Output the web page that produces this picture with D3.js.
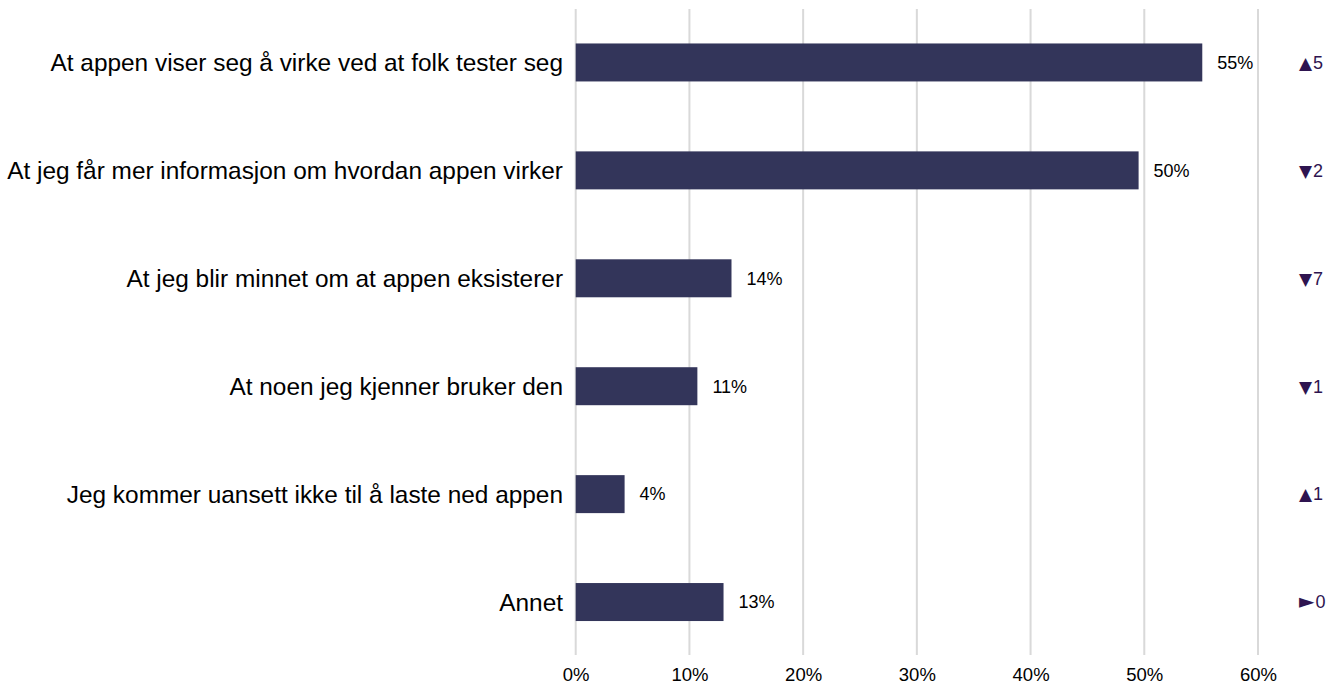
<!DOCTYPE html>
<html>
<head>
<meta charset="utf-8">
<script src="https://cdn.jsdelivr.net/npm/d3@7"></script>
<style>
  html, body { margin: 0; padding: 0; background: #fff; }
  svg { display: block; font-family: "Liberation Sans", Arial, sans-serif; }
</style>
</head>
<body>
<svg id="chart" width="1331" height="687"></svg>
<script>
// Answer categories (top to bottom)
const categories = [
  "At appen viser seg å virke ved at folk tester seg",
  "At jeg får mer informasjon om hvordan appen virker",
  "At jeg blir minnet om at appen eksisterer",
  "At noen jeg kjenner bruker den",
  "Jeg kommer uansett ikke til å laste ned appen",
  "Annet"
];
// Share of respondents
const values = [0.551, 0.495, 0.137, 0.107, 0.043, 0.130];
// Change since previous round (points)
const changeSymbols = ["▲", "▼", "▼", "▼", "▲", "►"];
const changeValues = [5, 2, 7, 1, 1, 0];
// Axis ticks
const tickValues = [0, 0.1, 0.2, 0.3, 0.4, 0.5, 0.6];

const svg = d3.select("#chart");

const x = d3.scaleLinear().domain([0, 0.6]).range([575.7, 1258]);
const y = d3.scaleBand()
  .domain(categories)
  .range([8.5, 656])
  .paddingInner(0.648)
  .paddingOuter(0.324);

const barColor = "#33355a";
const changeColor = "#2e1450";
const pct = d3.format(".0%");

// Vertical gridlines
svg.append("g")
  .selectAll("line")
  .data(tickValues)
  .join("line")
  .attr("x1", d => x(d)).attr("x2", d => x(d))
  .attr("y1", 9).attr("y2", 655)
  .attr("stroke", "#d9d9d9")
  .attr("stroke-width", 2);

// Axis tick labels
const axis = d3.axisBottom(x).tickValues(tickValues).tickFormat(pct).tickSize(0).tickPadding(0);
const axisG = svg.append("g").attr("transform", "translate(0,668)").call(axis);
axisG.select(".domain").remove();
axisG.selectAll("text")
  .attr("dy", null)
  .attr("y", 13)
  .attr("font-size", "18.5px")
  .attr("font-family", "Liberation Sans, Arial, sans-serif")
  .attr("fill", "#000");

// Bars
svg.append("g")
  .selectAll("rect")
  .data(categories)
  .join("rect")
  .attr("x", x(0))
  .attr("y", d => y(d))
  .attr("width", (d, i) => x(values[i]) - x(0))
  .attr("height", y.bandwidth())
  .attr("fill", barColor);

// Category labels
svg.append("g")
  .selectAll("text")
  .data(categories)
  .join("text")
  .attr("x", 563)
  .attr("y", d => y(d) + y.bandwidth() / 2)
  .attr("dy", "0.35em")
  .attr("text-anchor", "end")
  .attr("font-size", "24.4px")
  .attr("fill", "#000")
  .text(d => d);

// Value labels
svg.append("g")
  .selectAll("text")
  .data(categories)
  .join("text")
  .attr("x", (d, i) => x(values[i]) + 15)
  .attr("y", d => y(d) + y.bandwidth() / 2)
  .attr("dy", "0.35em")
  .attr("font-size", "18px")
  .attr("fill", "#000")
  .text((d, i) => pct(values[i]));

// Change indicators
const chg = svg.append("g")
  .selectAll("text")
  .data(categories)
  .join("text")
  .attr("x", 1299)
  .attr("y", d => y(d) + y.bandwidth() / 2)
  .attr("dy", "0.35em")
  .attr("font-size", "18px")
  .attr("fill", changeColor);
chg.append("tspan")
  .style("font-family", "'DejaVu Sans', sans-serif")
  .style("font-size", (d, i) => changeSymbols[i] === "►" ? "20px" : "17px")
  .text((d, i) => changeSymbols[i]);
chg.append("tspan")
  .attr("dx", 1)
  .text((d, i) => changeValues[i]);
</script>
</body>
</html>
